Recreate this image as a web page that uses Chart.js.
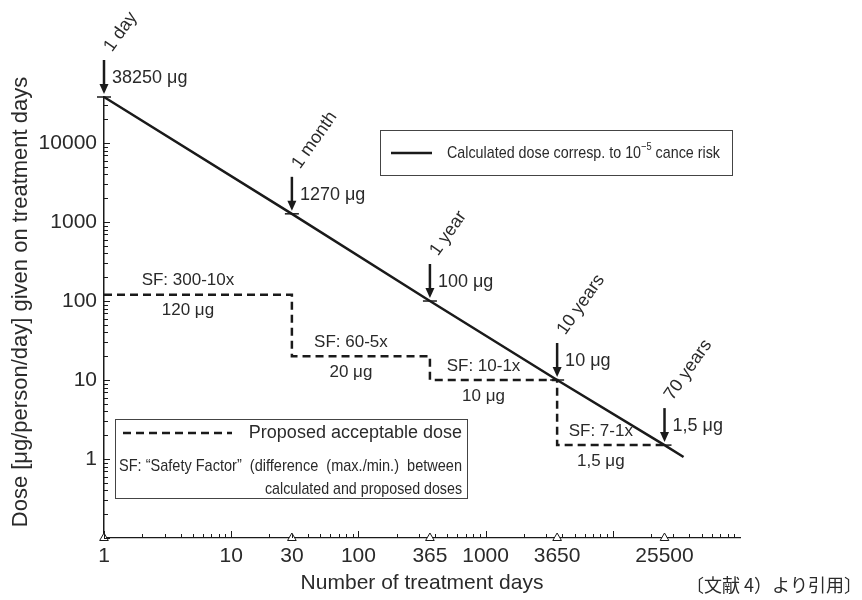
<!DOCTYPE html>
<html>
<head>
<meta charset="utf-8">
<title>Dose vs number of treatment days</title>
<script src="https://cdn.jsdelivr.net/npm/chart.js@4.4.1/dist/chart.umd.min.js"></script>
<style>
  html, body { margin: 0; padding: 0; background: #fff; }
  canvas { display: block; }
</style>
</head>
<body>
<canvas id="doseChart" width="862" height="600"></canvas>
<script>
// Values
const calcDays = [1, 30, 365, 3650, 25500, 36000];
const calcDose = [38250, 1270, 100, 10, 1.5, 1.06];

const stepDays = [1, 30, 365, 3650, 27000];
const stepDose = [120, 20, 10, 1.5, 1.5];
const sfLabels = ['SF: 300-10x', 'SF: 60-5x', 'SF: 10-1x', 'SF: 7-1x'];
const stepLabels = ['120 μg', '20 μg', '10 μg', '1,5 μg'];

const markerDays = [1, 30, 365, 3650, 25500];
const markerDose = [38250, 1270, 100, 10, 1.5];
const markerValues = ['38250 μg', '1270 μg', '100 μg', '10 μg', '1,5 μg'];
const markerPeriods = ['1 day', '1 month', '1 year', '10 years', '70 years'];

const xTicks = [1, 10, 30, 100, 365, 1000, 3650, 25500];
const yTicks = [1, 10, 100, 1000, 10000];
const xMin = 1, xMax = 100000;
const yMin = 0.1, yMax = 38250;

const INK = '#1a1a1a';
const TEXT = '#2a2a2a';
const FONT = '"Liberation Sans", Arial, Helvetica, sans-serif';

function seg(ctx, x1, y1, x2, y2) {
    ctx.beginPath();
    ctx.moveTo(x1, y1);
    ctx.lineTo(x2, y2);
    ctx.stroke();
}

// Draw text squeezed horizontally to a given width (the figure uses a condensed face)
function squeezed(ctx, parts, x, y, width, align) {
    let natural = 0;
    parts.forEach(p => { ctx.font = p.font; natural += ctx.measureText(p.text).width; });
    const sx = Math.min(1, width / natural);
    const total = natural * sx;
    let cx = align === 'right' ? x - total : x;
    ctx.save();
    ctx.translate(cx, y);
    ctx.scale(sx, 1);
    let off = 0;
    parts.forEach(p => {
        ctx.font = p.font;
        ctx.textAlign = 'left';
        ctx.textBaseline = 'middle';
        ctx.fillText(p.text, off, p.dy || 0);
        off += ctx.measureText(p.text).width;
    });
    ctx.restore();
}

const overlay = {
    id: 'overlay',
    afterDraw(chart) {
        const ctx = chart.ctx;
        const xs = chart.scales.x, ys = chart.scales.y, area = chart.chartArea;
        ctx.save();

        // tick marks pointing into the plot
        ctx.strokeStyle = INK;
        ctx.lineWidth = 1;
        for (let e = 0; e <= 4; e++) {
            for (let m = 1; m <= 9; m++) {
                const v = m * Math.pow(10, e);
                if (v < xMin || v > xMax) continue;
                const px = Math.round(xs.getPixelForValue(v)) + 0.5;
                seg(ctx, px, area.bottom, px, area.bottom - (m === 1 ? 7 : 4));
            }
        }
        for (let e = -1; e <= 4; e++) {
            for (let m = 1; m <= 9; m++) {
                const v = m * Math.pow(10, e);
                if (v < yMin || v > yMax) continue;
                const py = Math.round(ys.getPixelForValue(v)) + 0.5;
                seg(ctx, area.left, py, area.left + (m === 1 ? 6 : 4), py);
            }
        }

        // arrows with dose and period labels
        ctx.fillStyle = INK;
        markerDays.forEach((d, i) => {
            const px = xs.getPixelForValue(d);
            const py = ys.getPixelForValue(markerDose[i]);
            const tip = py - 3, top = tip - 34;
            ctx.strokeStyle = INK;
            ctx.lineWidth = 2.5;
            seg(ctx, px, top, px, tip - 8);
            ctx.beginPath();
            ctx.moveTo(px - 4.5, tip - 10);
            ctx.lineTo(px + 4.5, tip - 10);
            ctx.lineTo(px, tip);
            ctx.closePath();
            ctx.fill();

            ctx.fillStyle = TEXT;
            ctx.font = '18px ' + FONT;
            ctx.textAlign = 'left';
            ctx.textBaseline = 'middle';
            ctx.fillText(markerValues[i], px + 8, py - 19);

            ctx.save();
            ctx.translate(px + 4, top - 10);
            ctx.rotate(-55 * Math.PI / 180);
            ctx.fillText(markerPeriods[i], 0, 0);
            ctx.restore();
            ctx.fillStyle = INK;
        });

        // safety factor and dose labels on the steps
        ctx.fillStyle = TEXT;
        ctx.font = '17px ' + FONT;
        ctx.textAlign = 'center';
        ctx.textBaseline = 'middle';
        sfLabels.forEach((t, i) => {
            const x0 = xs.getPixelForValue(stepDays[i]);
            const x1 = xs.getPixelForValue(Math.min(stepDays[i + 1], markerDays[i + 1]));
            const cx = (x0 + x1) / 2 - 10;
            const py = ys.getPixelForValue(stepDose[i]);
            ctx.fillText(t, cx, py - 14);
            ctx.fillText(stepLabels[i], cx, py + 16);
        });

        // legend box 1
        ctx.strokeStyle = '#444';
        ctx.lineWidth = 1;
        ctx.strokeRect(380.5, 130.5, 352, 45);
        ctx.strokeStyle = INK;
        ctx.lineWidth = 2.5;
        seg(ctx, 391, 153, 432, 153);
        ctx.fillStyle = TEXT;
        squeezed(ctx, [
            { text: 'Calculated dose corresp. to 10', font: '17px ' + FONT },
            { text: '\u22125', font: '11px ' + FONT, dy: -6 },
            { text: ' cance risk', font: '17px ' + FONT }
        ], 447, 153, 273, 'left');

        // legend box 2
        ctx.strokeStyle = '#444';
        ctx.lineWidth = 1;
        ctx.strokeRect(115.5, 419.5, 352, 79);
        ctx.strokeStyle = INK;
        ctx.lineWidth = 2.5;
        ctx.setLineDash([8, 5]);
        seg(ctx, 123, 433, 232, 433);
        ctx.setLineDash([]);
        ctx.font = '18px ' + FONT;
        ctx.textAlign = 'right';
        ctx.textBaseline = 'middle';
        ctx.fillText('Proposed acceptable dose', 462, 433);
        squeezed(ctx, [{ text: 'SF: \u201cSafety Factor\u201d  (difference  (max./min.)  between', font: '17px ' + FONT }],
            119, 466, 343, 'left');
        squeezed(ctx, [{ text: 'calculated and proposed doses', font: '17px ' + FONT }],
            462, 489, 197, 'right');

        // y axis title
        ctx.save();
        ctx.translate(21, 302);
        ctx.rotate(-Math.PI / 2);
        ctx.font = '22px ' + FONT;
        ctx.textAlign = 'center';
        ctx.textBaseline = 'middle';
        ctx.fillText('Dose [μg/person/day] given on treatment days', 0, 0);
        ctx.restore();

        // source note
        ctx.font = '18px "Noto Sans CJK JP", sans-serif';
        ctx.textAlign = 'right';
        ctx.textBaseline = 'middle';
        ctx.fillText('〔文献 4）より引用〕', 862, 585);

        ctx.restore();
    }
};

const ctx = document.getElementById('doseChart').getContext('2d');
new Chart(ctx, {
    type: 'line',
    data: {
        datasets: [
            {
                label: 'Calculated dose corresp. to 10⁻⁵ cance risk',
                data: calcDays.map((d, i) => ({ x: d, y: calcDose[i] })),
                borderColor: INK,
                borderWidth: 2.5,
                pointStyle: 'line',
                pointRadius: c => (c.dataIndex < markerDays.length ? 7 : 0),
                pointBorderWidth: 1.5,
                pointBorderColor: INK,
                tension: 0,
                clip: false
            },
            {
                label: 'Proposed acceptable dose',
                data: stepDays.map((d, i) => ({ x: d, y: stepDose[i] })),
                borderColor: INK,
                borderWidth: 2.5,
                borderDash: [8, 5],
                stepped: 'before',
                pointRadius: 0,
                clip: false
            },
            {
                label: 'axis marks',
                data: markerDays.map(d => ({ x: d, y: yMin })),
                showLine: false,
                pointStyle: 'triangle',
                pointRadius: 5,
                pointBackgroundColor: '#fff',
                pointBorderColor: INK,
                pointBorderWidth: 1,
                clip: false
            }
        ]
    },
    options: {
        responsive: false,
        animation: false,
        events: [],
        layout: { padding: { top: 97, right: 122, bottom: 0, left: 0 } },
        plugins: {
            legend: { display: false },
            tooltip: { enabled: false }
        },
        scales: {
            x: {
                type: 'logarithmic',
                min: xMin,
                max: xMax,
                grid: { display: false, drawTicks: false },
                border: { display: true, color: INK, width: 1.2 },
                afterBuildTicks: s => { s.ticks = xTicks.map(v => ({ value: v })); },
                afterFit: s => { s.height = 62; },
                ticks: {
                    autoSkip: false,
                    maxRotation: 0,
                    padding: 6,
                    color: TEXT,
                    font: { family: FONT, size: 21 },
                    callback: v => String(v)
                },
                title: {
                    display: true,
                    text: 'Number of treatment days',
                    color: TEXT,
                    font: { family: FONT, size: 21 },
                    padding: { top: 0, bottom: 4 }
                }
            },
            y: {
                type: 'logarithmic',
                min: yMin,
                max: yMax,
                grid: { display: false, drawTicks: false },
                border: { display: true, color: INK, width: 1.5 },
                afterBuildTicks: s => { s.ticks = yTicks.map(v => ({ value: v })); },
                afterFit: s => { s.width = 104; },
                ticks: {
                    autoSkip: false,
                    padding: 7,
                    color: TEXT,
                    font: { family: FONT, size: 21 },
                    callback: v => String(v)
                }
            }
        }
    },
    plugins: [overlay]
});
</script>
</body>
</html>
